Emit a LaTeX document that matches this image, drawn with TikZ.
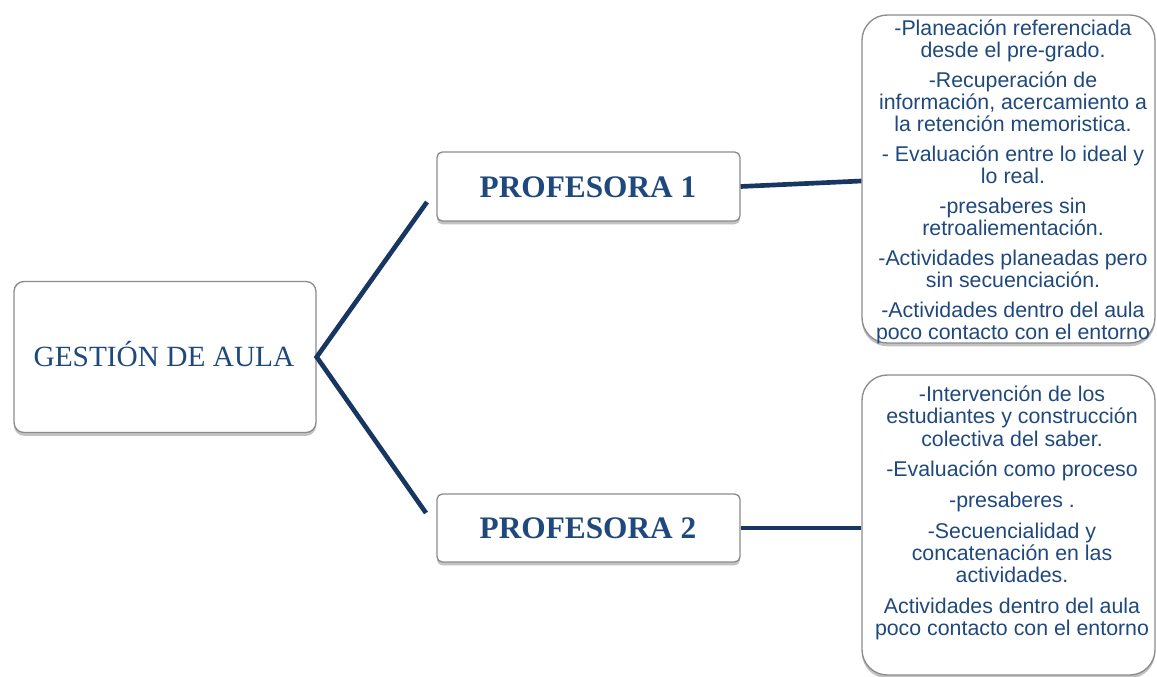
\documentclass[tikz,border=0pt]{standalone}
\usepackage{fontspec}
\setmainfont{Liberation Serif}
\newfontfamily\arialf{Liberation Sans}
\usetikzlibrary{shadows,calc}
\definecolor{txtblue}{RGB}{31,73,125}
\definecolor{linenavy}{RGB}{24,54,98}
\definecolor{bordergray}{RGB}{140,140,140}
\begin{document}
\begin{tikzpicture}[x=0.75pt,y=-0.75pt,
  box/.style={draw=bordergray, line width=1pt, fill=white, rounded corners=#1, inner sep=0pt,
    drop shadow={shadow xshift=0pt, shadow yshift=-2.5pt, opacity=0.4, fill=black!60}},
  conn/.style={draw=linenavy, line width=3.5pt},
  serlabel/.style={anchor=base, inner sep=0pt, text=txtblue, font=\fontsize{22}{26}\selectfont},
  boldlabel/.style={anchor=base, inner sep=0pt, text=txtblue, font=\bfseries\fontsize{23.5}{28}\selectfont},
  rtext/.style={anchor=north, inner sep=0pt, align=center, text=txtblue, font=\arialf\fontsize{16}{16.7}\selectfont}]
\useasboundingbox (0,0) rectangle (1157,677);

% boxes
\node[box=7.5pt, minimum width=226.5pt, minimum height=113.25pt] (gest) at (165,357) {};
\node[box=4pt, minimum width=227.25pt, minimum height=51.75pt] (p1) at (588.5,186.5) {};
\node[box=4pt, minimum width=227.25pt, minimum height=51pt] (p2) at (588.5,528) {};
\node[box=19pt, minimum width=219.75pt, minimum height=246pt] (rb1) at (1008.5,179) {};
\node[box=19pt, minimum width=219.75pt, minimum height=225pt] (rb2) at (1008.5,525) {};

% labels
\node[serlabel] (gestlbl) at (164,367) {GESTIÓN DE AULA};
\node[boldlabel] (p1lbl) at (588,197.3) {PROFESORA 1};
\node[boldlabel] (p2lbl) at (588,538.3) {PROFESORA 2};

\node[rtext] (t1) at (1013,19.5) {-Planeación referenciada\\desde el pre-grado.\\[5.5pt]
-Recuperación de\\información, acercamiento a\\la retención memoristica.\\[5.5pt]
- Evaluación entre lo ideal y\\lo real.\\[5.5pt]
-presaberes sin\\retroaliementación.\\[5.5pt]
-Actividades planeadas pero\\sin secuenciación.\\[5.5pt]
-Actividades dentro del aula\\poco contacto con el entorno};

\node[rtext] (t2) at (1012,385.5) {-Intervención de los\\estudiantes y construcción\\colectiva del saber.\\[6.3pt]
-Evaluación como proceso\\[6.3pt]
-presaberes .\\[6.3pt]
-Secuencialidad y\\concatenación en las\\actividades.\\[6.3pt]
Actividades dentro del aula\\poco contacto con el entorno};

% connectors
\coordinate (v1) at (427,202);
\coordinate (v2) at (426,513);
\draw[conn] (v1) -- (gest.east) -- (v2);
\draw[conn] (p1.east) -- ($(rb1.west)+(0,2)$);
\draw[conn] (p2.east) -- (p2.east -| rb2.west);
\end{tikzpicture}
\end{document}
